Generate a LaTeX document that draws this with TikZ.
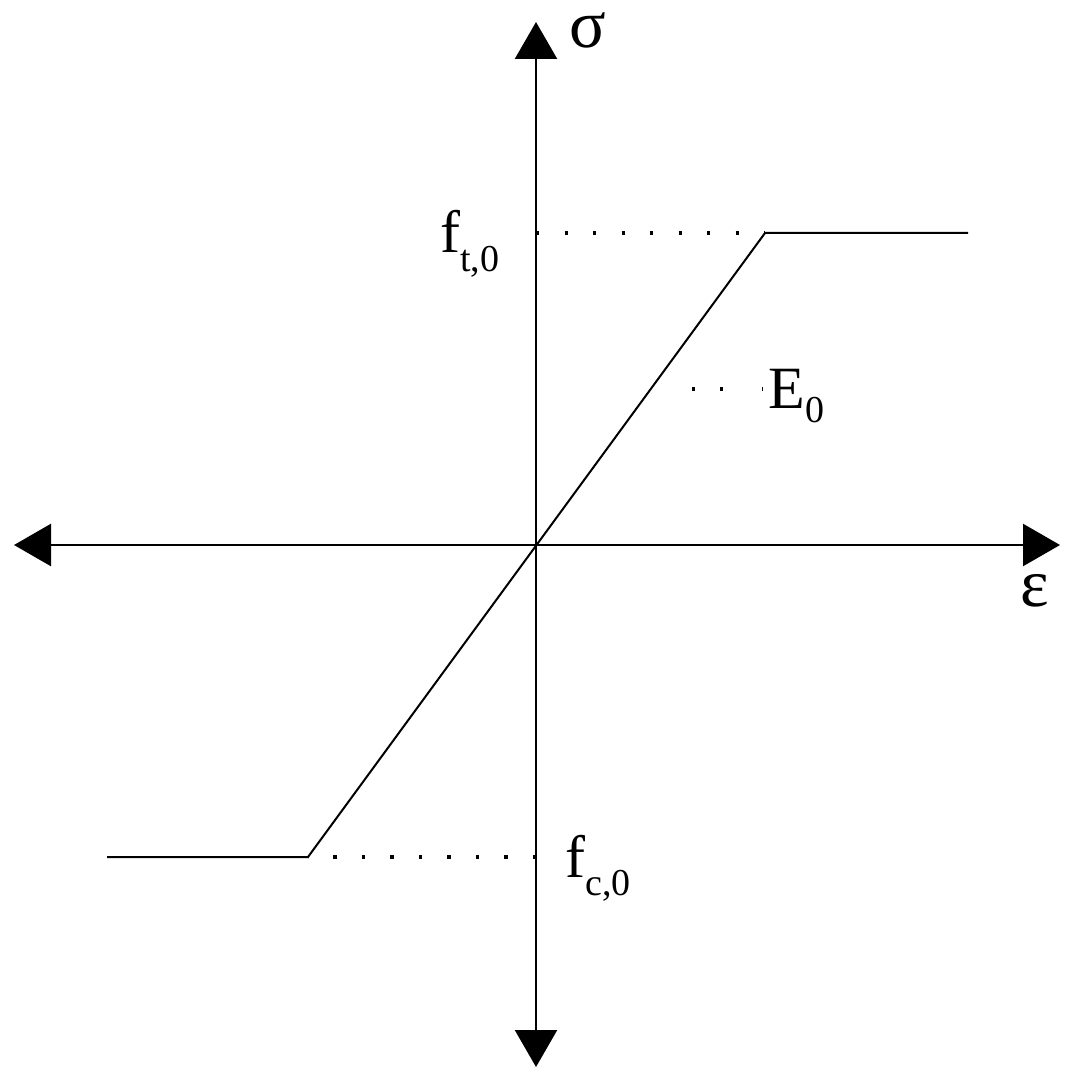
\documentclass[tikz,border=0pt]{standalone}
\usepackage{fontspec}
\setmainfont{Liberation Serif}
\usetikzlibrary{arrows.meta}
\newcommand\subfnt{\fontsize{19}{20}\selectfont}
\begin{document}
\begin{tikzpicture}[x=0.5pt,y=-0.5pt,
  axis/.style={line width=1.2pt,{Triangle[length=18.5pt,width=21pt]}-{Triangle[length=18.5pt,width=21pt]}},
  curve/.style={line width=1pt,line join=miter},
  dots/.style={line width=1.6pt,dash pattern=on 1.6pt off 12.65pt},
  lbl/.style={inner sep=0pt,font=\fontsize{30}{32}\selectfont},
  greek/.style={inner sep=0pt,text height=17pt,text depth=0pt,font=\fontsize{34}{36}\selectfont}]
\useasboundingbox (0,0) rectangle (1074,1085);
\coordinate (O) at (536,545);
\coordinate (top) at (536,22);
\coordinate (bot) at (536,1067);
\coordinate (left) at (14,545);
\coordinate (right) at (1060,545);
\coordinate (c1) at (107,857);
\coordinate (c2) at (308,857);
\coordinate (t1) at (765,233);
\coordinate (t2) at (968,233);
\coordinate (ft) at (536,233);
\coordinate (fc) at (536,857);
\coordinate (e1) at (692,389);
\coordinate (e2) at (763,389);
% axes
\draw[axis] (bot) -- (top);
\draw[axis] (left) -- (right);
% constitutive curve
\draw[curve] (c1) -- (c2) -- (t1) -- (t2);
% dotted guides
\draw[dots] (ft) -- (t1);
\draw[dots] (fc) -- (c2);
\draw[line width=1.6pt,dash pattern=on 1.6pt off 12.4pt on 1.6pt off 19.4pt] (e1) -- (e2);
% labels
\node[greek,anchor=base] (sig) at (588,48) {σ};
\node[greek,anchor=base] (eps) at (1035,606) {ε};
\node[lbl,anchor=base west] (flt) at (440,253) {f\raisebox{-9.5pt}{\subfnt t,0}};
\node[lbl,anchor=base west] (flc) at (565,877) {f\raisebox{-9pt}{\subfnt c,0}};
\node[lbl,anchor=base west] (E0) at (768,408) {E\raisebox{-7pt}{\subfnt 0}};
\end{tikzpicture}
\end{document}
